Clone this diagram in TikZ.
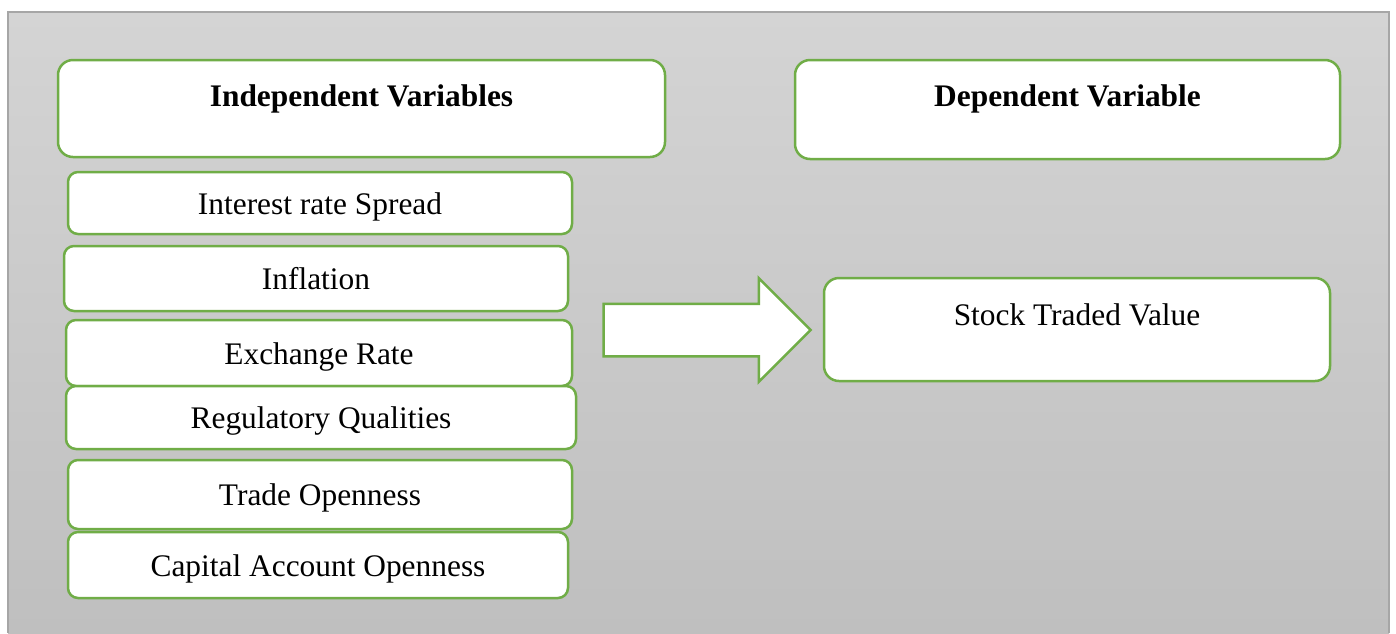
\documentclass[tikz,border=0pt]{standalone}
\usepackage{fontspec}
\setmainfont{Liberation Serif}
\usetikzlibrary{shapes.arrows, positioning}
\definecolor{boxgreen}{HTML}{70AD47}
\definecolor{bgtop}{HTML}{D4D4D4}
\definecolor{bgbottom}{HTML}{BFBFBF}
\definecolor{bgline}{HTML}{A6A6A6}

\begin{document}
\begin{tikzpicture}[
  x=0.5pt, y=-0.5pt,
  header/.style={rectangle, rounded corners=7.5pt, draw=boxgreen, fill=white, line width=1.25pt, inner sep=0pt},
  headtext/.style={anchor=base, font=\fontsize{15.7}{18}\selectfont\bfseries, yshift=-23.75pt},
  varbox/.style={rectangle, rounded corners=5pt, draw=boxgreen, fill=white, line width=1.25pt, font=\fontsize{15.7}{18}\selectfont, inner sep=0pt, text height=11pt, text depth=0pt},
  flow/.style={single arrow, draw=boxgreen, fill=white, line width=1.25pt, single arrow head extend=12.75pt, inner sep=12.5pt, minimum height=103.5pt}
]
\useasboundingbox (0,0) rectangle (1396,633);

% background panel
\shade[top color=bgtop, bottom color=bgbottom] (8,12) rectangle (1389,633);
\draw[bgline, line width=1pt] (8,633) -- (8,12) -- (1389,12) -- (1389,633);

% headers
\node[header, minimum width=303.5pt, minimum height=48.5pt, label={[headtext]north:Independent Variables}] (indep) at (361.5,108.5) {};
\node[header, minimum width=272.5pt, minimum height=49.5pt, label={[headtext]north:Dependent Variable}] (dep) at (1067.5,109.5) {};

% independent variables
\node[varbox, minimum width=252pt, minimum height=31pt] (spread) at (320,203) {Interest rate Spread};
\node[varbox, minimum width=252pt, minimum height=32.5pt] (inflation) at (316,278.5) {Inflation};
\node[varbox, minimum width=253pt, minimum height=33pt] (exchange) at (319,353) {Exchange Rate};
\node[varbox, minimum width=255pt, minimum height=31.5pt] (regulatory) at (321,417.5) {Regulatory Qualities};
\node[varbox, minimum width=252pt, minimum height=34.5pt] (trade) at (320,494.5) {Trade Openness};
\node[varbox, minimum width=250pt, minimum height=33pt] (capital) at (318,565) {Capital Account Openness};

% dependent variable
\node[header, minimum width=253pt, minimum height=51.5pt, label={[headtext, yshift=-0.5pt, font=\fontsize{15.7}{18}\selectfont]north:Stock Traded Value}] (stock) at (1077,329.5) {};

% block arrow
\node[flow] (link) at (694,330) {};

\end{tikzpicture}
\end{document}
